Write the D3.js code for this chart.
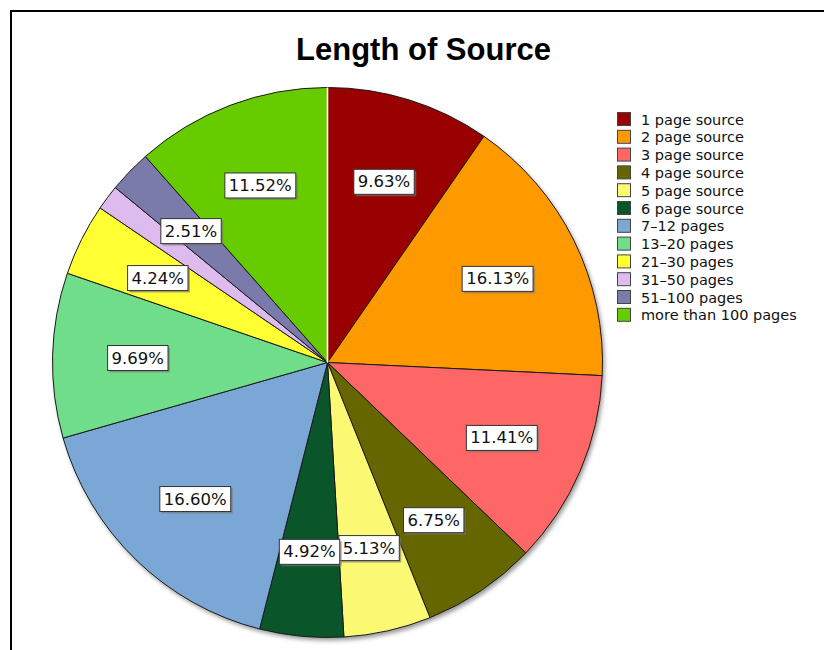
<!DOCTYPE html>
<html>
<head>
<meta charset="utf-8">
<script src="https://cdn.jsdelivr.net/npm/d3@7"></script>
<style>
  html, body { margin: 0; padding: 0; background: #fff; }
  svg { display: block; }
</style>
</head>
<body>
<svg id="chart" width="824" height="650"></svg>
<script>
const categories = ["1 page source", "2 page source", "3 page source", "4 page source", "5 page source", "6 page source", "7-12 pages", "13-20 pages", "21-30 pages", "31-50 pages", "51-100 pages", "more than 100 pages"];
const values = [9.63, 16.13, 11.41, 6.75, 5.13, 4.92, 16.60, 9.69, 4.24, 1.47, 2.51, 11.52];
const showLabel = [true, true, true, true, true, true, true, true, true, false, true, true];
const colors = ["#990000", "#ff9900", "#ff6666", "#666600", "#fbf873", "#0b552b", "#7ba7d6", "#70dd8a", "#ffff33", "#ddbbee", "#7b7bab", "#66cc00"];
const title = "Length of Source";

const svg = d3.select("#chart");
const cx = 327.5, cy = 362.5, R = 275;

// frame
svg.append("rect").attr("x", 11).attr("y", 11).attr("width", 830).attr("height", 660)
  .attr("fill", "none").attr("stroke", "#000").attr("stroke-width", 2);

// title
svg.append("text").attr("x", 423.5).attr("y", 60).attr("text-anchor", "middle")
  .attr("font-family", "Liberation Sans, Arial, sans-serif").attr("font-weight", "bold")
  .attr("font-size", 31).attr("fill", "#000").text(title);

const data = categories.map((c, i) => ({ name: c, value: values[i], color: colors[i], show: showLabel[i] }));
const pie = d3.pie().value(d => d.value).sort(null);
const arcs = pie(data);
const arc = d3.arc().innerRadius(0).outerRadius(R);
const labelArc = d3.arc().innerRadius(R * 0.69).outerRadius(R * 0.69);

const defs = svg.append("defs");
defs.append("filter").attr("id", "blur").append("feGaussianBlur").attr("stdDeviation", 2);

const g = svg.append("g").attr("transform", `translate(${cx},${cy})`);
// shadow
g.append("circle").attr("cx", 2).attr("cy", 3).attr("r", R).attr("fill", "#999").attr("filter", "url(#blur)");

g.selectAll("path.slice").data(arcs).join("path").attr("class", "slice")
  .attr("d", arc).attr("fill", d => d.data.color)
  .attr("stroke", "#1a1a1a").attr("stroke-width", 1).attr("stroke-linejoin", "round");

// white separator at 12 o'clock
g.append("line").attr("x1", 0).attr("y1", 0).attr("x2", 0).attr("y2", -R)
  .attr("stroke", "#fff").attr("stroke-width", 1.6);

// labels
const lab = g.selectAll("g.lab").data(arcs.filter(d => d.data.show)).join("g").attr("class", "lab")
  .attr("transform", d => { const [x, y] = labelArc.centroid(d); return `translate(${x},${y})`; });
lab.each(function(d) {
  const sel = d3.select(this);
  const t = sel.append("text").attr("text-anchor", "middle").attr("dy", "0.36em")
    .attr("font-family", "DejaVu Sans, sans-serif").attr("font-size", 16.5).attr("fill", "#111")
    .text(d.data.value.toFixed(2) + "%");
  const bb = t.node().getBBox();
  const pw = 4, ph = 3;
  sel.insert("rect", "text").attr("x", bb.x - pw + 2).attr("y", bb.y - ph + 2)
    .attr("width", bb.width + 2 * pw).attr("height", bb.height + 2 * ph).attr("fill", "#777").attr("opacity", 0.6);
  sel.insert("rect", "text").attr("x", bb.x - pw).attr("y", bb.y - ph)
    .attr("width", bb.width + 2 * pw).attr("height", bb.height + 2 * ph)
    .attr("fill", "#fff").attr("stroke", "#333").attr("stroke-width", 1);
});

// legend
const leg = svg.append("g").attr("transform", "translate(617,112)");
const rows = leg.selectAll("g").data(data).join("g").attr("transform", (d, i) => `translate(0,${i * 17.8})`);
rows.append("rect").attr("x", 0.5).attr("y", 0.5).attr("width", 13).attr("height", 13)
  .attr("fill", d => d.color).attr("stroke", "#444").attr("stroke-width", 1);
rows.append("text").attr("x", 24).attr("y", 12.5)
  .attr("font-family", "DejaVu Sans, sans-serif").attr("font-size", 14.5).attr("fill", "#111")
  .text(d => d.name.replace(/-/g, "\u2013"));
</script>
</body>
</html>
